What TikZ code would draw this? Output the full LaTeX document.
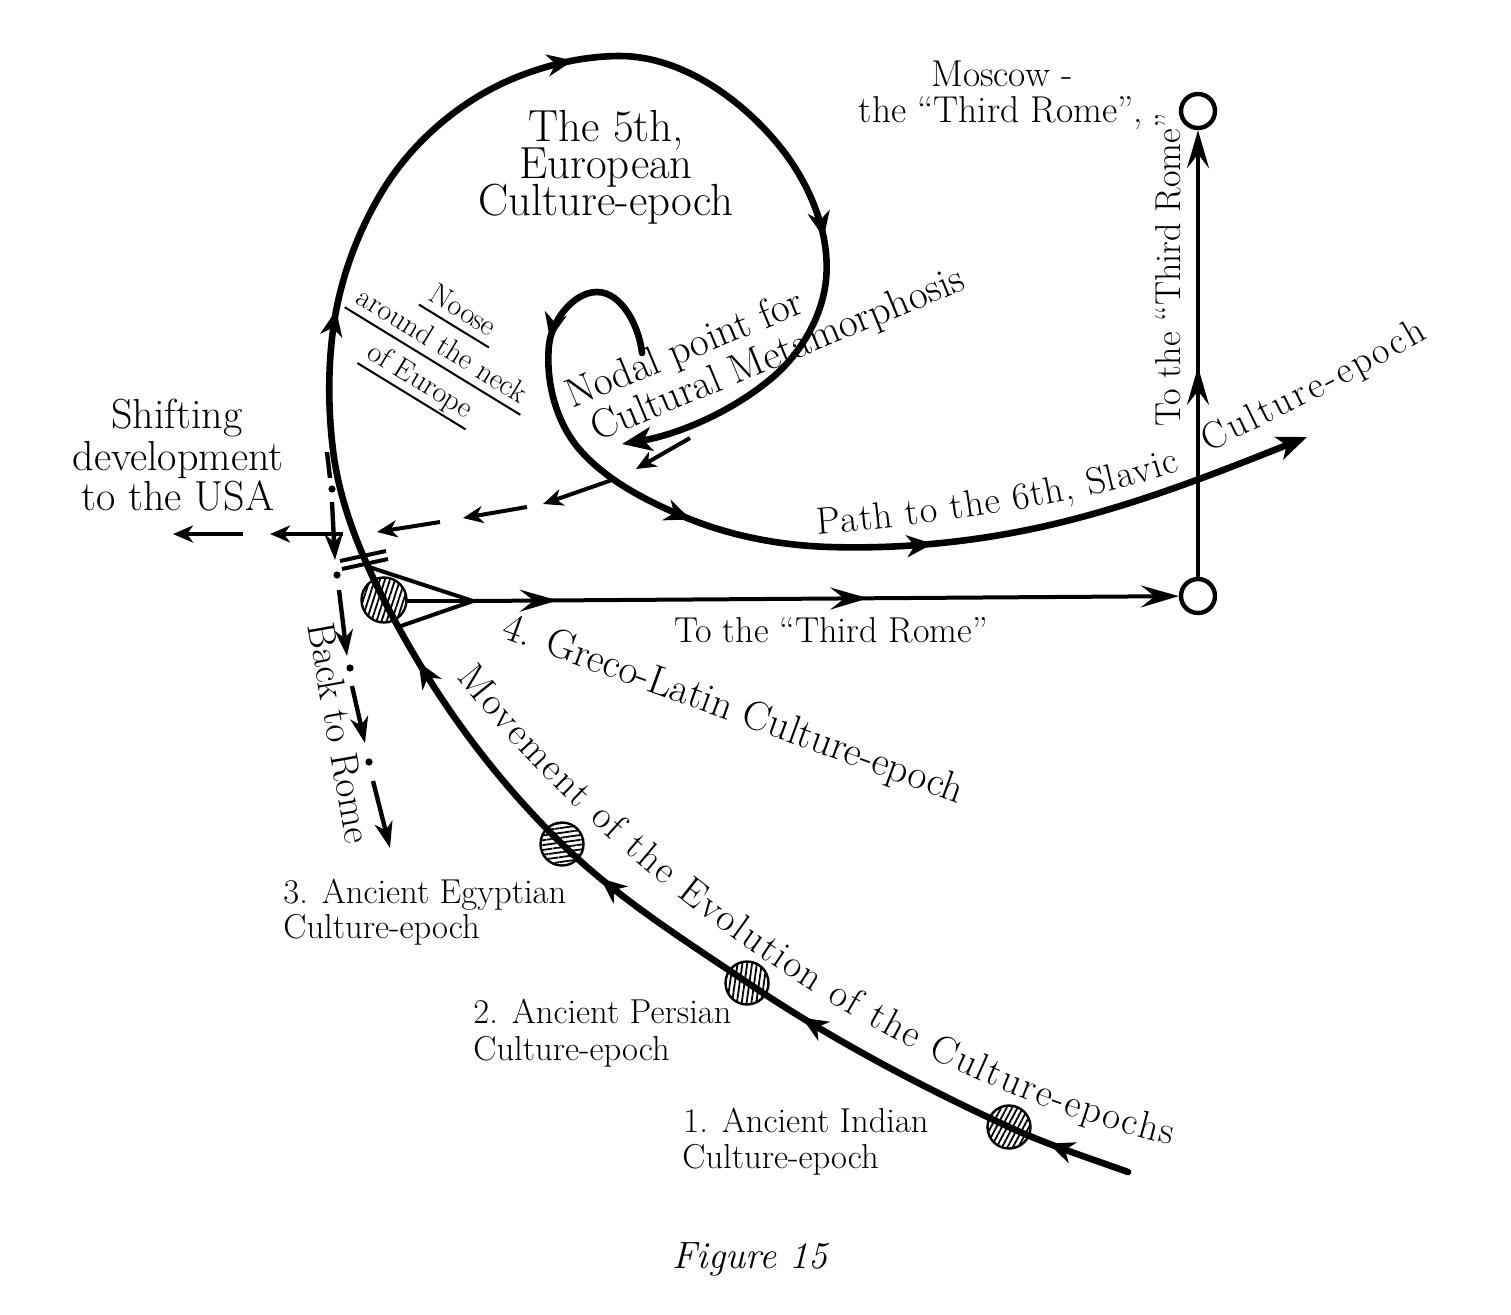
\documentclass[tikz,border=0pt]{standalone}
\usetikzlibrary{arrows.meta,decorations.markings,decorations.text,patterns.meta}
\tikzset{
  spT/.tip={Stealth[length=13pt,width=11pt,inset=4pt]},
  spE/.tip={Stealth[length=15pt,width=12pt,inset=4pt]},
  thT/.tip={Stealth[length=19pt,width=11pt,inset=7pt]},
  dsT/.tip={Stealth[length=10pt,width=8.5pt,inset=3pt]},
  ddT/.tip={Stealth[length=13pt,width=9pt,inset=4pt]},
  spiralln/.style={line width=3.3pt,line cap=round},
  thinln/.style={line width=2pt},
  dshln/.style={line width=2pt,-dsT},
  ddln/.style={line width=2.2pt,-ddT},
  dddot/.style={circle,fill,inner sep=0pt,minimum size=3.6pt},
  hcirc/.style={circle,draw,line width=1.2pt,inner sep=0pt,minimum size=21.5pt},
  mring/.style={circle,draw,line width=2.2pt,fill=white,inner sep=0pt,minimum size=17pt},
  lblbig/.style={inner sep=0pt,font=\fontsize{22.5}{24}\selectfont},
  lblusa/.style={inner sep=0pt,font=\fontsize{21}{23}\selectfont},
  lblmid/.style={inner sep=0pt,font=\fontsize{20.5}{22}\selectfont},
  lblmos/.style={inner sep=0pt,font=\fontsize{18.7}{21}\selectfont},
  lblback/.style={inner sep=0pt,font=\fontsize{19.5}{21}\selectfont},
  lblrome/.style={inner sep=0pt,font=\fontsize{18}{20}\selectfont},
  lblsm/.style={inner sep=0pt,font=\fontsize{17.3}{19}\selectfont},
  lblxs/.style={inner sep=0pt,font=\fontsize{15}{16}\selectfont},
}
\begin{document}
\begin{tikzpicture}[x=0.5pt,y=-0.5pt]
\fill[white] (0,0) rectangle (1511,1314);
\useasboundingbox (0,0) rectangle (1511,1314);

% ---------- outer spiral: movement of the culture-epochs ----------
\draw[spiralln,-spE,postaction={decorate},decoration={markings,
  mark=at position 0.037 with {\arrow{spT}},
  mark=at position 0.158 with {\arrow{spT}},
  mark=at position 0.265 with {\arrow{spT}},
  mark=at position 0.389 with {\arrow{spT}},
  mark=at position 0.551 with {\arrow{spT}},
  mark=at position 0.711 with {\arrow{spT}},
  mark=at position 0.859 with {\arrow{spT}}}]
  (1128,1172) .. controls (1088.1,1157.6) and (1047.6,1144.8) .. (1009,1127)
  .. controls (918.5,1085.3) and (830.5,1038.7) .. (748,983)
  .. controls (683.8,939.7) and (617.7,898.2) .. (562,844)
  .. controls (489.5,773.5) and (429.7,689.7) .. (384,600)
  .. controls (360,553) and (339.3,502.3) .. (333,450)
  .. controls (328.2,410.4) and (327.8,369.6) .. (333,330)
  .. controls (339.4,280.9) and (357.2,232.2) .. (383,190)
  .. controls (413.4,140.4) and (462.7,98.6) .. (517,77)
  .. controls (549.6,64) and (585,56) .. (620,56)
  .. controls (681.8,56) and (742.7,99.8) .. (781,148)
  .. controls (809.8,184.3) and (830.7,233.7) .. (826,280)
  .. controls (822.3,316.6) and (801,353.1) .. (773,377)
  .. controls (731.2,412.8) and (676.2,434.8) .. (622,444);

% ---------- inner spiral: path to the 6th ----------
\draw[spiralln,-spE,postaction={decorate},decoration={markings,
  mark=at position 0.147 with {\arrow{spT}},
  mark=at position 0.388 with {\arrow{spT}},
  mark=at position 0.624 with {\arrow{spT}}}]
  (642,353) .. controls (639.5,327.8) and (622.3,292) .. (597,292)
  .. controls (573.2,292) and (551.4,321.3) .. (549,345)
  .. controls (545.4,381.3) and (555.9,422.6) .. (580,450)
  .. controls (606.3,479.9) and (643.4,499.1) .. (680,515)
  .. controls (727,535.4) and (778.9,545.5) .. (830,547)
  .. controls (903.7,549.2) and (978.3,541.6) .. (1050,525)
  .. controls (1138.1,504.6) and (1222.8,470.5) .. (1307,437);

% ---------- hatched epoch circles ----------
\node[hcirc,pattern={Lines[angle=62,distance=2.4pt,line width=0.9pt]}] (c1) at (1009,1127) {};
\node[hcirc,pattern={Lines[angle=82,distance=2.4pt,line width=0.9pt]}] (c2) at (747,983) {};
\node[hcirc,pattern={Lines[angle=8,distance=2.4pt,line width=0.9pt]}] (c3) at (562,844) {};
\node[hcirc,minimum size=22.5pt,pattern={Lines[angle=72,distance=2.4pt,line width=0.9pt]}] (c4) at (384,600) {};

% ---------- double tick ----------
\coordinate (k1a) at (340,561); \coordinate (k1b) at (386,551);
\coordinate (k2a) at (342,569); \coordinate (k2b) at (388,559);
\draw[thinln] (k1a) -- (k1b);
\draw[thinln] (k2a) -- (k2b);

% ---------- triangle and line to the Third Rome ----------
\coordinate (apx) at (473,601);
\coordinate (tp1) at (369,567);
\coordinate (tp2) at (406,601);
\coordinate (tp3) at (398,627);
\draw[thinln] (tp1) -- (apx);
\draw[thinln] (tp2) -- (apx);
\draw[thinln] (tp3) -- (apx);

\node[mring] (mb) at (1198,596) {};
\node[mring] (mt) at (1198,111) {};
\draw[thinln,-thT,postaction={decorate},decoration={markings,
  mark=at position 0.12 with {\arrow{thT}},
  mark=at position 0.56 with {\arrow{thT}}}] (apx) -- (mb);
\draw[thinln,-thT,postaction={decorate},decoration={markings,
  mark=at position 0.47 with {\arrow{thT}}}] (mb) -- (mt);

% ---------- dashed shift to the USA ----------
\coordinate (d0) at (690,438);  \coordinate (d1) at (636,469);
\coordinate (d2) at (612,480);  \coordinate (d3) at (543,504);
\coordinate (d4) at (527,507);  \coordinate (d5) at (463,518);
\coordinate (d6) at (440,522);  \coordinate (d7) at (377,532);
\coordinate (d8) at (343,534);  \coordinate (d9) at (270,534);
\coordinate (d10) at (243,534); \coordinate (d11) at (173,534);
\draw[dshln] (d0) -- (d1);
\draw[dshln] (d2) -- (d3);
\draw[dshln] (d4) -- (d5);
\draw[dshln] (d6) -- (d7);
\draw[dshln] (d8) -- (d9);
\draw[dshln] (d10) -- (d11);

% ---------- dash-dot back to Rome ----------
\coordinate (q0) at (327,452); \coordinate (q1) at (330,478);
\coordinate (q2) at (332,502); \coordinate (q3) at (335,560);
\coordinate (q4) at (339,590); \coordinate (q5) at (347,656);
\coordinate (q6) at (352,686); \coordinate (q7) at (365,743);
\coordinate (q8) at (373,781); \coordinate (q9) at (390,848);
\draw[line width=2.2pt] (q0) -- (q1);
\draw[ddln] (q2) -- (q3);
\draw[ddln] (q4) -- (q5);
\draw[ddln] (q6) -- (q7);
\draw[ddln] (q8) -- (q9);
\node[dddot] (r1) at (332,489) {};
\node[dddot] (r2) at (337,575) {};
\node[dddot] (r3) at (350,668) {};
\node[dddot] (r4) at (369,762) {};

% ---------- labels ----------
\node[lblbig,anchor=base] (e5a) at (606,141) {The 5th,};
\node[lblbig,anchor=base] (e5b) at (606,178) {European};
\node[lblbig,anchor=base] (e5c) at (606,215) {Culture-epoch};

\node[lblmos,anchor=base] (mo1) at (1002,86) {Moscow -};
\node[lblmos,anchor=base] (mo2) at (1001,122) {the “Third Rome”,};

\node[lblusa,anchor=base] (us1) at (177,428) {Shifting};
\node[lblusa,anchor=base] (us2) at (178,470) {development};
\node[lblusa,anchor=base] (us3) at (178,510) {to the USA};

\node[lblsm,anchor=base west] (eg1) at (283,903) {3. Ancient Egyptian};
\node[lblsm,anchor=base west] (eg2) at (283,938) {Culture-epoch};
\node[lblsm,anchor=base west] (pe1) at (473,1023) {2. Ancient Persian};
\node[lblsm,anchor=base west] (pe2) at (473,1060) {Culture-epoch};
\node[lblsm,anchor=base west] (in1) at (683,1132) {1. Ancient Indian};
\node[lblsm,anchor=base west] (in2) at (682,1168) {Culture-epoch};

\node[lblrome,anchor=base east] (tr1) at (988,642) {To the “Third Rome”};
\node[lblrome,anchor=base,rotate=90] (tr2) at (1180,270) {To the “Third Rome”};

\node[lblmid,anchor=base west,rotate=22.5] (nd1) at (572,409) {Nodal point for};
\node[lblmid,anchor=base west,rotate=22.5] (nd2) at (597,442) {Cultural Metamorphosis};

\node[lblmid,rotate=-20] (gl) at (733,711) {4. Greco-Latin Culture-epoch};
\node[lblback,anchor=base,rotate=-80] (br) at (327,735) {Back to Rome};

\begin{scope}[shift={(432.5,361)},rotate=-31.5]
  \draw[line width=1pt] (-41,-41) -- (41,-41);
  \draw[line width=1pt] (-103,0) -- (103,0);
  \draw[line width=1pt] (-63,41) -- (64,41);
  \node[lblxs,anchor=base,transform shape] (ns1) at (0,-50) {Noose};
  \node[lblxs,anchor=base,transform shape] (ns2) at (0,-9) {around the neck};
  \node[lblxs,anchor=base,transform shape] (ns3) at (0,32) {of Europe};
\end{scope}

\path[decorate,decoration={text along path,text align=fit to path,
  text={|\fontsize{19.5}{21}\selectfont|Movement of the Evolution of the Culture-epochs}}]
  (457,677) .. controls (560,810) and (820,1060) .. (1170,1145);
\path[decorate,decoration={text along path,text align=fit to path,
  text={|\fontsize{19}{21}\selectfont|Path to the 6th, Slavic}}]
  (817,534) .. controls (920,527) and (1080,505) .. (1180,471);
\path[decorate,decoration={text along path,text align=fit to path,
  text={|\fontsize{19}{21}\selectfont|Culture-epoch}}]
  (1208,452) .. controls (1280,418) and (1350,383) .. (1428,338);

\node[font=\itshape\fontsize{19}{21}\selectfont,anchor=base,inner sep=0pt] (fig) at (750,1268) {Figure 15};
\end{tikzpicture}
\end{document}
